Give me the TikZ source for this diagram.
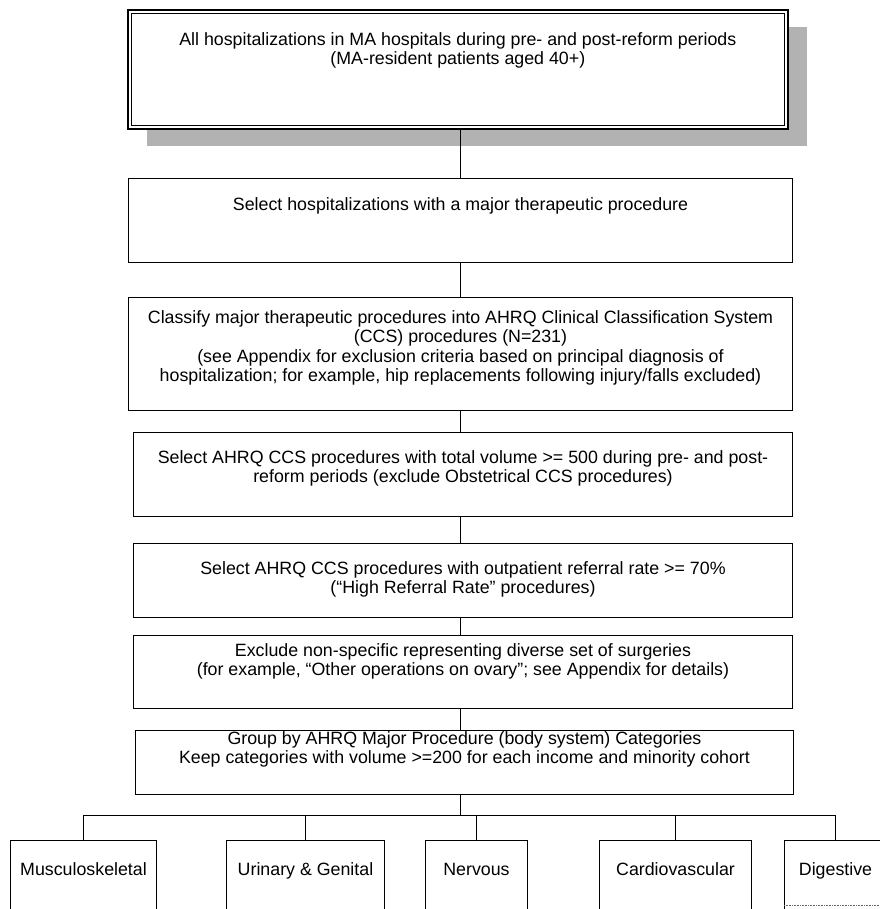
\documentclass[tikz,border=0pt]{standalone}
\usepackage{fontspec}
\setmainfont{Liberation Sans}
\usetikzlibrary{shadows}

% Box content: width, height, top padding, text (set near the top of the frame)
\newcommand\flowcontent[4]{\parbox[c][#2][t]{#1}{\centering\vspace*{#3}\strut#4\par}}

\begin{document}
\begin{tikzpicture}[x=1pt,y=-1pt,
  flowbox/.style={draw=black,line width=1pt,fill=white,inner sep=0pt,anchor=north west,
    font=\fontsize{17.8}{19.5}\selectfont},
  catbox/.style={draw=black,line width=1pt,inner sep=0pt,anchor=north west,
    font=\fontsize{17.8}{19.5}\selectfont},
  link/.style={draw=black,line width=1pt},
  shade/.style={drop shadow={shadow xshift=19pt,shadow yshift=-17pt,fill=black!30,opacity=1}}]

\useasboundingbox (0,0) rectangle (879,909);

% vertical spine of the flow and the distribution bus
\coordinate (spine) at (460,0);
\coordinate (bus) at (460,815);

% first box: double frame with a grey drop shadow
\node[flowbox,shade,line width=1.7pt] (b1) at (127,9)
  {\flowcontent{660pt}{119pt}{22pt}{All hospitalizations in MA hospitals during pre- and post-reform periods\\
   (MA-resident patients aged 40+)}};
\draw[line width=0.8pt] ([shift={(4,4)}]b1.north west) rectangle ([shift={(-4,-4)}]b1.south east);

\node[flowbox] (b2) at (128,178)
  {\flowcontent{664pt}{84pt}{18pt}{Select hospitalizations with a major therapeutic procedure}};

\node[flowbox] (b3) at (128,297)
  {\flowcontent{664pt}{113pt}{12pt}{Classify major therapeutic procedures into AHRQ Clinical Classification System\\
   (CCS) procedures (N=231)\\
   (see Appendix for exclusion criteria based on principal diagnosis of\\
   hospitalization; for example, hip replacements following injury/falls excluded)}};

\node[flowbox] (b4) at (133,432)
  {\flowcontent{659pt}{84pt}{17pt}{Select AHRQ CCS procedures with total volume >= 500 during pre- and post-\\
   reform periods (exclude Obstetrical CCS procedures)}};

\node[flowbox] (b5) at (133,543)
  {\flowcontent{659pt}{74pt}{17pt}{Select AHRQ CCS procedures with outpatient referral rate >= 70\%\\
   (“High Referral Rate” procedures)}};

\node[flowbox] (b6) at (133,635)
  {\flowcontent{659pt}{73pt}{7pt}{Exclude non-specific representing diverse set of surgeries\\
   (for example, “Other operations on ovary”; see Appendix for details)}};

\node[flowbox] (b7) at (135,730)
  {\flowcontent{658pt}{64pt}{0pt}{Group by AHRQ Major Procedure (body system) Categories\\
   Keep categories with volume >=200 for each income and minority cohort}};

% connectors along the spine
\draw[link] (b1.south -| spine) -- (b2.north -| spine);
\draw[link] (b2.south -| spine) -- (b3.north -| spine);
\draw[link] (b3.south -| spine) -- (b4.north -| spine);
\draw[link] (b4.south -| spine) -- (b5.north -| spine);
\draw[link] (b5.south -| spine) -- (b6.north -| spine);
\draw[link] (b6.south -| spine) -- (b7.north -| spine);
\draw[link] (b7.south -| spine) -- (bus);

% body-system categories (frames run past the lower edge)
\node[catbox] (c1) at (10,840)  {\flowcontent{146pt}{110pt}{21pt}{Musculoskeletal}};
\node[catbox] (c2) at (226,840) {\flowcontent{158pt}{110pt}{21pt}{Urinary \& Genital}};
\node[catbox] (c3) at (425,840) {\flowcontent{102pt}{110pt}{21pt}{Nervous}};
\node[catbox] (c4) at (599,840) {\flowcontent{152pt}{110pt}{21pt}{Cardiovascular}};
\node[catbox] (c5) at (784,840) {\flowcontent{102pt}{110pt}{21pt}{Digestive}};
\coordinate (c5b) at (784,905);
\draw[densely dotted,line width=0.6pt,black!60] (c5b) -- ++(95,0);

% distribution bus
\draw[link] (c1.north) -- (c1.north |- bus) -- (c5.north |- bus) -- (c5.north);
\draw[link] (c2.north) -- (c2.north |- bus);
\draw[link] (c3.north) -- (c3.north |- bus);
\draw[link] (c4.north) -- (c4.north |- bus);

\end{tikzpicture}
\end{document}
